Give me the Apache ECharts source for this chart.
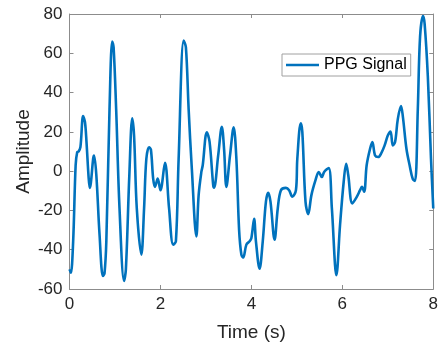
<!DOCTYPE html>
<html>
<head>
<meta charset="utf-8">
<script src="https://cdn.jsdelivr.net/npm/echarts@6/dist/echarts.min.js"></script>
<style>
html,body{margin:0;padding:0;background:#fff;}
#chart{width:441px;height:347px;}
</style>
</head>
<body>
<div id="chart"></div>
<script>
const seriesName = 'PPG Signal';
const timeS = [0.00,0.03,0.08,0.135,0.17,0.20,0.24,0.30,0.34,0.374,0.42,0.446,0.47,0.52,0.54,0.59,0.66,0.735,0.77,0.81,0.88,0.94,0.97,1.026,1.10,1.20,1.24,1.316,1.38,1.42,1.48,1.58,1.64,1.69,1.75,1.79,1.84,1.88,1.94,2.00,2.10,2.19,2.28,2.34,2.40,2.51,2.56,2.62,2.69,2.79,2.84,2.90,2.93,3.02,3.08,3.16,3.18,3.27,3.35,3.40,3.45,3.53,3.61,3.67,3.73,3.78,3.82,3.89,3.96,4.00,4.06,4.10,4.18,4.25,4.32,4.37,4.42,4.51,4.58,4.65,4.76,4.83,4.90,4.98,5.01,5.085,5.12,5.19,5.25,5.32,5.41,5.48,5.55,5.60,5.70,5.77,5.87,5.95,6.03,6.085,6.13,6.22,6.32,6.39,6.43,6.48,6.535,6.61,6.66,6.72,6.79,6.86,6.93,7.00,7.06,7.11,7.16,7.22,7.29,7.33,7.41,7.48,7.55,7.60,7.66,7.71,7.775,7.81,7.88,7.95,8.00];
const amplitude = [-50,-51.7,-36,3,9.7,10,12.2,28,25,14.8,-3,-8.5,-6,6.3,8,-2,-32,-53.4,-52,-35.7,31.6,66,63,31.6,-19,-55.9,-50,-2,26.9,18,-19,-42.5,-19,6.3,12.2,11,-3.8,-8,-3.8,-9.7,4.3,-19,-37.4,-35.7,6.3,66.5,63,31.6,1.3,-33.2,-12.2,-0.4,3,19.8,15,-7.1,-8.4,8,22.6,11,-8,8,22.3,6.3,-30,-42.5,-44,-37.4,-35.7,-34,-24.3,-35.7,-49.7,-35.7,-15.5,-11,-15.5,-34.9,-19,-9.7,-8.5,-9.7,-13,-9.7,6.3,24.3,20,-15.5,-21.9,-12.2,-4.6,-0.4,-3,-0.4,1.6,-19,-53,-27.3,-5.4,3.8,-2,-16.4,-13,-9.7,-8,-10.5,3,11.4,14.8,8,7.2,9.3,13.1,18.1,20.1,13.1,14.8,26.5,33.2,28,11.4,3,-4.1,-5,31.6,68.6,79,75,48.4,6.3,-19];
const xTicks = [0,2,4,6,8];
const yTicks = [-60,-40,-20,0,20,40,60,80];

const font = "'Liberation Sans', Arial, Helvetica, sans-serif";
const axisColor = '#8c8c8c';
const textColor = '#262626';
const data = timeS.map((t,i)=>[t, amplitude[i]]);

const chart = echarts.init(document.getElementById('chart'), null, {renderer:'canvas'});
chart.setOption({
  animation:false,
  backgroundColor:'#ffffff',
  grid:{left:69.5,right:3.7,top:14,bottom:55.5,containLabel:false},
  legend:{
    data:[{name:seriesName, icon:'rect'}],
    left:282, top:54,
    orient:'horizontal',
    backgroundColor:'#ffffff',
    borderColor:'#a0a0a0', borderWidth:1, borderRadius:0,
    padding:[3,4,3,4],
    itemWidth:33, itemHeight:2.6, itemGap:4,
    textStyle:{fontFamily:font,fontSize:16,color:'#000',padding:[0,0,0,0]}
  },
  xAxis:[{
    type:'value', min:xTicks[0], max:xTicks[xTicks.length-1], interval:2,
    name:'Time (s)', nameLocation:'middle', nameGap:34, nameMoveOverlap:false,
    nameTextStyle:{fontFamily:font,fontSize:19,color:textColor},
    axisLine:{onZero:false,lineStyle:{color:axisColor,width:1}},
    axisTick:{inside:true,length:4,lineStyle:{color:axisColor}},
    axisLabel:{fontFamily:font,fontSize:17,color:textColor,margin:7},
    splitLine:{show:false}
  },{
    type:'value', position:'top', min:xTicks[0], max:xTicks[xTicks.length-1], interval:2,
    axisLine:{show:true,onZero:false,lineStyle:{color:axisColor,width:1}},
    axisTick:{inside:true,length:4,lineStyle:{color:axisColor}},
    axisLabel:{show:false}, splitLine:{show:false}
  }],
  yAxis:[{
    type:'value', min:yTicks[0], max:yTicks[yTicks.length-1], interval:20,
    name:'Amplitude', nameLocation:'middle', nameGap:36, nameMoveOverlap:false,
    nameTextStyle:{fontFamily:font,fontSize:19,color:textColor},
    axisLine:{show:true,onZero:false,lineStyle:{color:axisColor,width:1}},
    axisTick:{show:true,inside:true,length:4,lineStyle:{color:axisColor}},
    axisLabel:{fontFamily:font,fontSize:17,color:textColor,margin:7},
    splitLine:{show:false}
  },{
    type:'value', position:'right', min:yTicks[0], max:yTicks[yTicks.length-1], interval:20,
    axisLine:{show:true,onZero:false,lineStyle:{color:axisColor,width:1}},
    axisTick:{show:true,inside:true,length:4,lineStyle:{color:axisColor}},
    axisLabel:{show:false}, splitLine:{show:false}
  }],
  series:[{
    name:seriesName, type:'line', data:data,
    xAxisIndex:0, yAxisIndex:0,
    symbol:'none', showSymbol:false,
    smooth:0.35,
    lineStyle:{color:'#0072BD',width:2.6},
    itemStyle:{color:'#0072BD'}
  }]
});
</script>
</body>
</html>
